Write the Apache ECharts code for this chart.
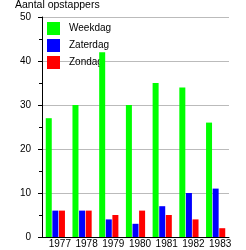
<!DOCTYPE html>
<html>
<head>
<meta charset="utf-8">
<title>Aantal opstappers</title>
<script src="https://cdn.jsdelivr.net/npm/echarts@6/dist/echarts.min.js"></script>
<style>
  html, body { margin: 0; padding: 0; background: #fff; }
  #chart { width: 246px; height: 250px; }
</style>
</head>
<body>
<div id="chart"></div>
<script>
// data
var years = ['1977', '1978', '1979', '1980', '1981', '1982', '1983'];
var weekdag = [27, 30, 42, 30, 35, 34, 26];
var zaterdag = [6, 6, 4, 3, 7, 10, 11];
var zondag = [6, 6, 5, 6, 5, 4, 2];

var font = '"Liberation Sans", Arial, sans-serif';
var chart = echarts.init(document.getElementById('chart'));

function bar(name, data, color) {
    return {
        name: name,
        type: 'bar',
        data: data,
        barWidth: 6,
        barGap: '10%',
        itemStyle: { color: color },
        z: 2
    };
}

chart.setOption({
    animation: false,
    textStyle: { fontFamily: font },
    title: {
        text: 'Aantal opstappers',
        left: 15, top: 0, padding: 0,
        textStyle: { fontSize: 10.5, fontWeight: 'normal', color: '#000', fontFamily: font }
    },
    legend: {
        orient: 'vertical',
        left: 47, top: 22, padding: 0,
        z: 1,
        itemWidth: 13, itemHeight: 13, itemGap: 4,
        icon: 'rect',
        textStyle: { fontSize: 10, color: '#000', fontFamily: font, padding: [0, 0, 0, 4] },
        data: ['Weekdag', 'Zaterdag', 'Zondag']
    },
    grid: { left: 42, right: 17, top: 17, bottom: 13 },
    xAxis: {
        type: 'category',
        data: years,
        axisLine: { lineStyle: { color: '#000', width: 1 } },
        axisTick: { show: false },
        axisLabel: { color: '#000', fontSize: 10, fontFamily: font, margin: 2, interval: 0, padding: [0, 0, 0, 9] }
    },
    yAxis: {
        type: 'value',
        min: 0, max: 50, interval: 10,
        axisLine: { show: true, lineStyle: { color: '#000', width: 1 } },
        axisTick: { show: true, length: 4, lineStyle: { color: '#000' } },
        minorTick: { show: true, splitNumber: 2, length: 3, lineStyle: { color: '#000' } },
        splitLine: { lineStyle: { color: '#bbb' } },
        axisLabel: { color: '#000', fontSize: 10, fontFamily: font, margin: 11 }
    },
    series: [
        bar('Weekdag', weekdag, '#00ff00'),
        bar('Zaterdag', zaterdag, '#0000ff'),
        bar('Zondag', zondag, '#ff0000')
    ]
});
</script>
</body>
</html>
